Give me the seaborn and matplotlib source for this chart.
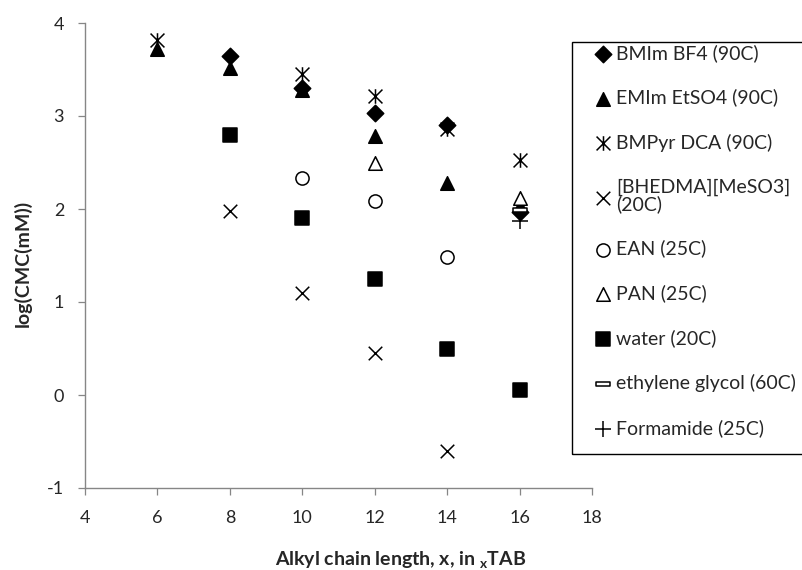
import matplotlib
matplotlib.use("Agg")
import matplotlib.pyplot as plt
from matplotlib.path import Path
from matplotlib.patches import Rectangle
import seaborn as sns
import pandas as pd

sns.set_theme(style="white")
plt.rcParams["font.family"] = ["Lato", "DejaVu Sans"]
plt.rcParams["axes.unicode_minus"] = False

# Alkyl chain length x and log(CMC) per solvent
bmim_x = [8, 10, 12, 14, 16]
bmim_y = [3.65, 3.30, 3.03, 2.90, 1.97]

emim_x = [6, 8, 10, 12, 14, 16]
emim_y = [3.72, 3.52, 3.28, 2.78, 2.28, 2.03]

bmpyr_x = [6, 10, 12, 14, 16]
bmpyr_y = [3.82, 3.45, 3.22, 2.86, 2.53]

bhedma_x = [8, 10, 12, 14]
bhedma_y = [1.98, 1.10, 0.45, -0.60]

ean_x = [10, 12, 14]
ean_y = [2.33, 2.09, 1.48]

pan_x = [12, 16]
pan_y = [2.50, 2.12]

water_x = [8, 10, 12, 14, 16]
water_y = [2.80, 1.90, 1.25, 0.50, 0.05]

eg_x = [16]
eg_y = [1.99]

form_x = [16]
form_y = [1.87]

# Excel style markers
asterisk = Path(
    [(-1, -1), (1, 1), (-1, 1), (1, -1), (0, -1.05), (0, 1.05)],
    [Path.MOVETO, Path.LINETO, Path.MOVETO, Path.LINETO, Path.MOVETO, Path.LINETO],
)
dash = Path(
    [(-1, -0.3), (1, -0.3), (1, 0.3), (-1, 0.3), (-1, -0.3)],
    [Path.MOVETO, Path.LINETO, Path.LINETO, Path.LINETO, Path.CLOSEPOLY],
)

series = [
    ("BMIm BF4 (90C)", bmim_x, bmim_y, "D", "black", 70),
    ("EMIm EtSO4 (90C)", emim_x, emim_y, "^", "black", 95),
    ("BMPyr DCA (90C)", bmpyr_x, bmpyr_y, asterisk, "none", 110),
    ("[BHEDMA][MeSO3]\n(20C)", bhedma_x, bhedma_y, "x", "none", 95),
    ("EAN (25C)", ean_x, ean_y, "o", "white", 90),
    ("PAN (25C)", pan_x, pan_y, "^", "white", 95),
    ("water (20C)", water_x, water_y, "s", "black", 95),
    ("ethylene glycol (60C)", eg_x, eg_y, dash, "white", 90),
    ("Formamide (25C)", form_x, form_y, "+", "none", 120),
]

fig = plt.figure(figsize=(8.03, 5.70), dpi=100)
W, H = 803, 570
ax = fig.add_axes([85 / W, 1 - 488 / H, (592 - 85) / W, (488 - 23) / H])

for label, xs, ys, marker, face, size in series:
    df = pd.DataFrame({"x": xs, "y": ys})
    kws = dict(marker=marker, s=size, linewidth=1.1, edgecolor="black")
    if face == "none":
        kws["color"] = "black"
    else:
        kws["facecolor"] = face
    sns.scatterplot(data=df, x="x", y="y", ax=ax, label=label, **kws)

ax.set_xlim(4, 18)
ax.set_ylim(-1, 4)
ax.set_xticks(range(4, 19, 2))
ax.set_yticks(range(-1, 5))
ax.tick_params(axis="both", labelsize=13, length=5, width=0.9,
               color="#868686", direction="out", left=True, bottom=True)
ax.tick_params(axis="x", pad=11)
ax.tick_params(axis="y", pad=10)
for side in ["top", "right"]:
    ax.spines[side].set_visible(False)
for side in ["left", "bottom"]:
    ax.spines[side].set_color("#868686")
    ax.spines[side].set_linewidth(1.0)

ax.set_xlabel("Alkyl chain length, x, in $_\\mathregular{x}$TAB",
              fontsize=14, fontweight="bold")
ax.xaxis.set_label_coords((401 - 85) / (592 - 85), -(550 - 488) / (488 - 23))
ax.set_ylabel("log(CMC(mM))", fontsize=14, fontweight="bold")
ax.yaxis.set_label_coords(-(85 - 32) / (592 - 85), (488 - 263) / (488 - 23))

leg = ax.legend(
    loc="upper left",
    bbox_to_anchor=(595 / W, 1 - 44 / H),
    bbox_transform=fig.transFigure,
    borderaxespad=0,
    borderpad=0,
    fontsize=14,
    frameon=False,
    labelspacing=1.38,
    handlelength=0.8,
    handletextpad=0.3,
    markerscale=1.0,
)
for t in leg.get_texts():
    t.set_linespacing(0.95)

# legend box as drawn by the original, running off the right edge
fig.patches.append(Rectangle((572 / W, 1 - 454 / H), 0.5, (454 - 42) / H,
                             transform=fig.transFigure, fill=False,
                             edgecolor="black", linewidth=1.0))

fig.savefig("out.png", dpi=100)
